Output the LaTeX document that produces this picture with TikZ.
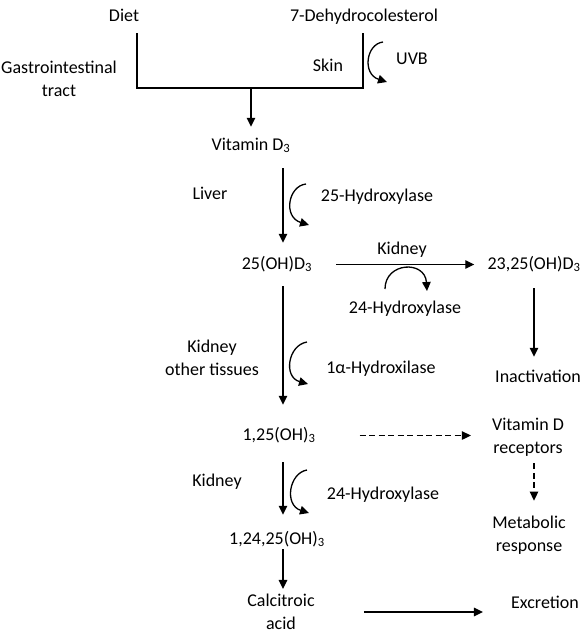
\documentclass[tikz,border=0pt]{standalone}
\usepackage{fontspec}
\setmainfont{Carlito}
\usetikzlibrary{arrows.meta, calc}

\begin{document}
\begin{tikzpicture}[
    x=1pt, y=-1pt,
    lbl/.style={inner sep=0pt, font=\fontsize{18}{23}\selectfont,
                text height=13pt, text depth=4pt, anchor=base},
    multi/.style={inner sep=0pt, font=\fontsize{18}{23}\selectfont, align=center},
    arrow/.style={->, line width=1.3pt, >={Triangle[length=9pt, width=8.5pt]}},
    dasharrow/.style={arrow, dash pattern=on 6pt off 3.5pt},
    hook/.style={arrow}
]
\useasboundingbox (0,0) rectangle (588,633);

% sources
\node[lbl] (diet) at (124,21)  {Diet};
\node[lbl] (dhc)  at (364,21)  {7-Dehydrocolesterol};
\node[multi] (git) at (59,79)  {Gastrointestinal\\tract};
\node[lbl] (skin) at (328,71)  {Skin};
\node[lbl] (uvb)  at (412,64)  {UVB};
\node[lbl] (vitd3) at (251,150) {Vitamin D\textsubscript{3}};

% liver step
\node[lbl] (liver) at (210,199) {Liver};
\node[lbl] (hyd25) at (377,201) {25-Hydroxylase};
\node[lbl] (ohd3)  at (277,269) {25(OH)D\textsubscript{3}};
\node[lbl] (kid1)  at (402,254) {Kidney};
\node[lbl] (hyd24a) at (405,313) {24-Hydroxylase};
\node[lbl] (d2325) at (534,269) {23,25(OH)D\textsubscript{3}};
\node[lbl] (inact) at (538,382) {Inactivation};

% kidney step
\node[multi] (kid2) at (212,358) {Kidney\\other tissues};
\node[lbl] (hyd1a) at (381,373) {1α-Hydroxilase};
\node[lbl] (d125)  at (279,440) {1,25(OH)\textsubscript{3}};
\node[multi] (vdr) at (528,437) {Vitamin D\\receptors};
\node[multi] (metab) at (529,535) {Metabolic\\response};
\node[lbl] (kid3)  at (217,486) {Kidney};
\node[lbl] (hyd24b) at (383,499) {24-Hydroxylase};
\node[lbl] (d12425) at (277,544) {1,24,25(OH)\textsubscript{3}};
\node[multi] (calc) at (281,612) {Calcitroic\\acid};
\node[lbl] (excr)  at (545,608) {Excretion};

\coordinate (col) at (283,0);
\coordinate (rcol) at (534,0);
\coordinate (dietend) at (137,33);
\coordinate (skinend) at (363,33);
\coordinate (join) at (251,88);

\draw[line width=1.3pt] (dietend) |- (join) -| (skinend);
\draw[arrow, shorten >=10pt] (join) -- (vitd3.north);

\draw[arrow, shorten <=14pt, shorten >=13pt] (col |- vitd3.south) -- (col |- ohd3.north);
\draw[arrow, shorten <=13pt, shorten >=22pt] (col |- ohd3.south) -- (col |- d125.north);
\draw[arrow, shorten <=18pt, shorten >=16pt] (col |- d125.south) -- (col |- d12425.north);
\draw[arrow, shorten <=1pt, shorten >=5pt] (col |- d12425.south) -- (col |- calc.north);

\draw[arrow, shorten <=24pt, shorten >=13pt] (ohd3.east) -- (d2325.west);
\draw[arrow, shorten <=15pt, shorten >=12pt] (rcol |- d2325.south) -- (rcol |- inact.north);
\draw[dasharrow, shorten <=44pt, shorten >=21pt] (d125.east) -- (d125.east -| vdr.west);
\draw[dasharrow, shorten <=7pt, shorten >=15pt] (rcol |- vdr.south) -- (rcol |- metab.north);
\draw[arrow, shorten <=49pt, shorten >=28pt] (calc.east) -- (calc.east -| excr.west);

% enzyme hooks
\coordinate (uvbA) at (383,42);   \coordinate (uvbB) at (387,82);
\coordinate (h25A) at (306,184);  \coordinate (h25B) at (309,225);
\coordinate (h24A) at (385,289);  \coordinate (h24B) at (427,291);
\coordinate (h1aA) at (307,342);  \coordinate (h1aB) at (308,384);
\coordinate (h24bA) at (307,470); \coordinate (h24bB) at (309,513);

\draw[hook] (uvbA) .. controls (366,44) and (362,74) .. (uvbB);
\draw[hook] (h25A) .. controls (288,186) and (283,217) .. (h25B);
\draw[hook] (h24A) .. controls (385,262) and (425,260) .. (h24B);
\draw[hook] (h1aA) .. controls (288,345) and (283,377) .. (h1aB);
\draw[hook] (h24bA) .. controls (289,473) and (284,505) .. (h24bB);

\end{tikzpicture}
\end{document}
